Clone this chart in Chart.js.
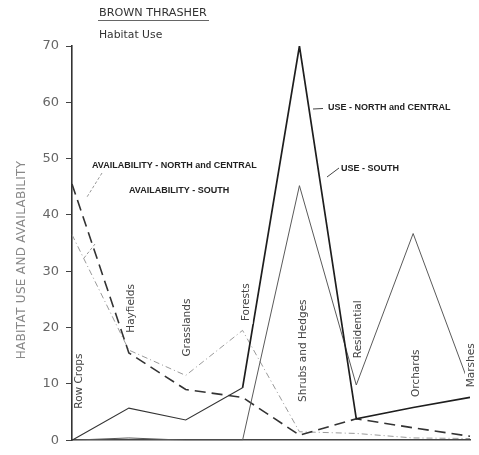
<!DOCTYPE html>
<html>
<head>
<meta charset="utf-8">
<script src="https://cdn.jsdelivr.net/npm/chart.js@4/dist/chart.umd.min.js"></script>
<style>
  html, body { margin: 0; padding: 0; background: #fff; }
  #wrap { width: 479px; height: 455px; }
</style>
</head>
<body>
<div id="wrap"><canvas id="chart" width="479" height="455"></canvas></div>
<script>
// Brown thrasher: habitat use vs. availability (percent) by habitat type
const habitats = ['Row Crops', 'Hayfields', 'Grasslands', 'Forests', 'Shrubs and Hedges', 'Residential', 'Orchards', 'Marshes'];
const useNorthCentral   = [0, 5.7, 3.6, 9.3, 70, 3.8, 5.8, 7.6];
const useSouth          = [0, 0.4, 0, 0, 45.2, 9.8, 36.7, 9.5];
const availNorthCentral = [45.5, 15.5, 9, 7.6, 0.9, 3.8, 2.2, 0.7];
const availSouth        = [36.5, 16, 11.5, 19.5, 1.5, 1.2, 0.4, 0.3];
const yTickValues       = [0, 10, 20, 30, 40, 50, 60, 70];

const seriesNames = {
  useNC: 'USE - NORTH and CENTRAL',
  useS: 'USE - SOUTH',
  availNC: 'AVAILABILITY - NORTH and CENTRAL',
  availS: 'AVAILABILITY - SOUTH'
};

// Where each habitat name sits: pixel offset right of its category, and centre height in data units
const habitatLabelSpots = [
  { dx: 7, v: 10.5 }, { dx: 2, v: 23.4 }, { dx: 2, v: 20 }, { dx: 4, v: 24.5 },
  { dx: 4, v: 15.9 }, { dx: 2, v: 19.7 }, { dx: 3, v: 11.9 }, { dx: 1, v: 13.3 }
];

const decorations = {
  id: 'decorations',
  afterDatasetsDraw(chart) {
    const { ctx, scales: { x, y } } = chart;
    ctx.save();

    // habitat names, written upward beside each category, with a white knockout
    ctx.font = '10.5px "DejaVu Sans"';
    ctx.textAlign = 'center';
    ctx.textBaseline = 'middle';
    habitats.forEach((name, i) => {
      const spot = habitatLabelSpots[i];
      const px = x.getPixelForValue(i) + spot.dx;
      const py = y.getPixelForValue(spot.v);
      ctx.save();
      ctx.translate(px, py);
      ctx.rotate(-Math.PI / 2);
      const w = ctx.measureText(name).width;
      ctx.fillStyle = '#fff';
      ctx.fillRect(-w / 2 - 3, -6, w + 6, 12);
      ctx.fillStyle = '#444';
      ctx.fillText(name, 0, 0);
      ctx.restore();
    });

    // vertical axis title
    ctx.save();
    ctx.translate(22, y.getPixelForValue(32));
    ctx.rotate(-Math.PI / 2);
    ctx.font = '12px "DejaVu Sans"';
    ctx.letterSpacing = '0.3px';
    ctx.fillStyle = '#888';
    ctx.fillText('HABITAT USE AND AVAILABILITY', 0, 0);
    ctx.restore();

    // heading
    ctx.textAlign = 'left';
    ctx.textBaseline = 'alphabetic';
    ctx.fillStyle = '#333';
    ctx.font = '11.2px "DejaVu Sans"';
    ctx.fillText('BROWN THRASHER', 99, 16);
    ctx.strokeStyle = '#666';
    ctx.lineWidth = 1;
    ctx.beginPath(); ctx.moveTo(98, 20.5); ctx.lineTo(209, 20.5); ctx.stroke();
    ctx.font = '10.8px "DejaVu Sans"';
    ctx.fillText('Habitat Use', 99, 38);

    // series captions with short leader lines
    ctx.font = 'bold 9px "Liberation Sans"';
    ctx.fillStyle = '#222';
    ctx.textBaseline = 'middle';
    ctx.fillText(seriesNames.useNC, 328, 108);
    ctx.fillText(seriesNames.useS, 341, 169);
    ctx.fillText(seriesNames.availNC, 92, 166);
    ctx.fillText(seriesNames.availS, 129, 191);

    ctx.strokeStyle = '#444';
    ctx.beginPath(); ctx.moveTo(313, 109); ctx.lineTo(323, 108.5); ctx.stroke();
    ctx.beginPath(); ctx.moveTo(327, 177); ctx.lineTo(339, 168); ctx.stroke();
    ctx.strokeStyle = '#999';
    ctx.setLineDash([3, 2]);
    ctx.beginPath(); ctx.moveTo(102, 173); ctx.lineTo(87, 197); ctx.stroke();
    ctx.beginPath(); ctx.moveTo(84, 258); ctx.lineTo(95, 244); ctx.stroke();
    ctx.restore();
  }
};

new Chart(document.getElementById('chart'), {
  type: 'line',
  data: {
    labels: habitats,
    datasets: [
      {
        label: seriesNames.useNC, data: useNorthCentral, borderColor: '#1e1e1e', borderWidth: 1.7,
        // the low-lying stretch across the open habitats is drawn with a lighter pen
        segment: { borderWidth: (c) => (c.p1DataIndex <= 3 ? 1.1 : 1.7), borderColor: (c) => (c.p1DataIndex <= 3 ? '#333' : '#1e1e1e') }
      },
      { label: seriesNames.useS, data: useSouth, borderColor: '#5a5a5a', borderWidth: 1 },
      { label: seriesNames.availNC, data: availNorthCentral, borderColor: '#333', borderWidth: 1.6, borderDash: [11, 6] },
      { label: seriesNames.availS, data: availSouth, borderColor: '#9a9a9a', borderWidth: 1, borderDash: [6, 3, 1, 3] }
    ]
  },
  options: {
    responsive: false,
    animation: false,
    devicePixelRatio: 1,
    layout: { padding: { top: 46, right: 9, bottom: 2, left: 0 } },
    elements: { point: { radius: 0 }, line: { tension: 0, fill: false } },
    plugins: { legend: { display: false }, tooltip: { enabled: false }, title: { display: false } },
    scales: {
      x: {
        type: 'category',
        offset: false,
        ticks: { display: false },
        grid: { display: false, drawTicks: false },
        border: { display: true, color: '#444', width: 1.5 }
      },
      y: {
        min: 0,
        max: 70,
        afterBuildTicks: (scale) => { scale.ticks = yTickValues.map(v => ({ value: v })); },
        afterFit: (scale) => { scale.width = 72; },
        ticks: { color: '#666', font: { family: 'DejaVu Sans', size: 13 }, padding: 7 },
        grid: { drawOnChartArea: false, drawTicks: true, tickLength: 6, color: '#444', tickColor: '#444' },
        border: { display: true, color: '#333', width: 1.6 }
      }
    }
  },
  plugins: [decorations]
});
</script>
</body>
</html>
